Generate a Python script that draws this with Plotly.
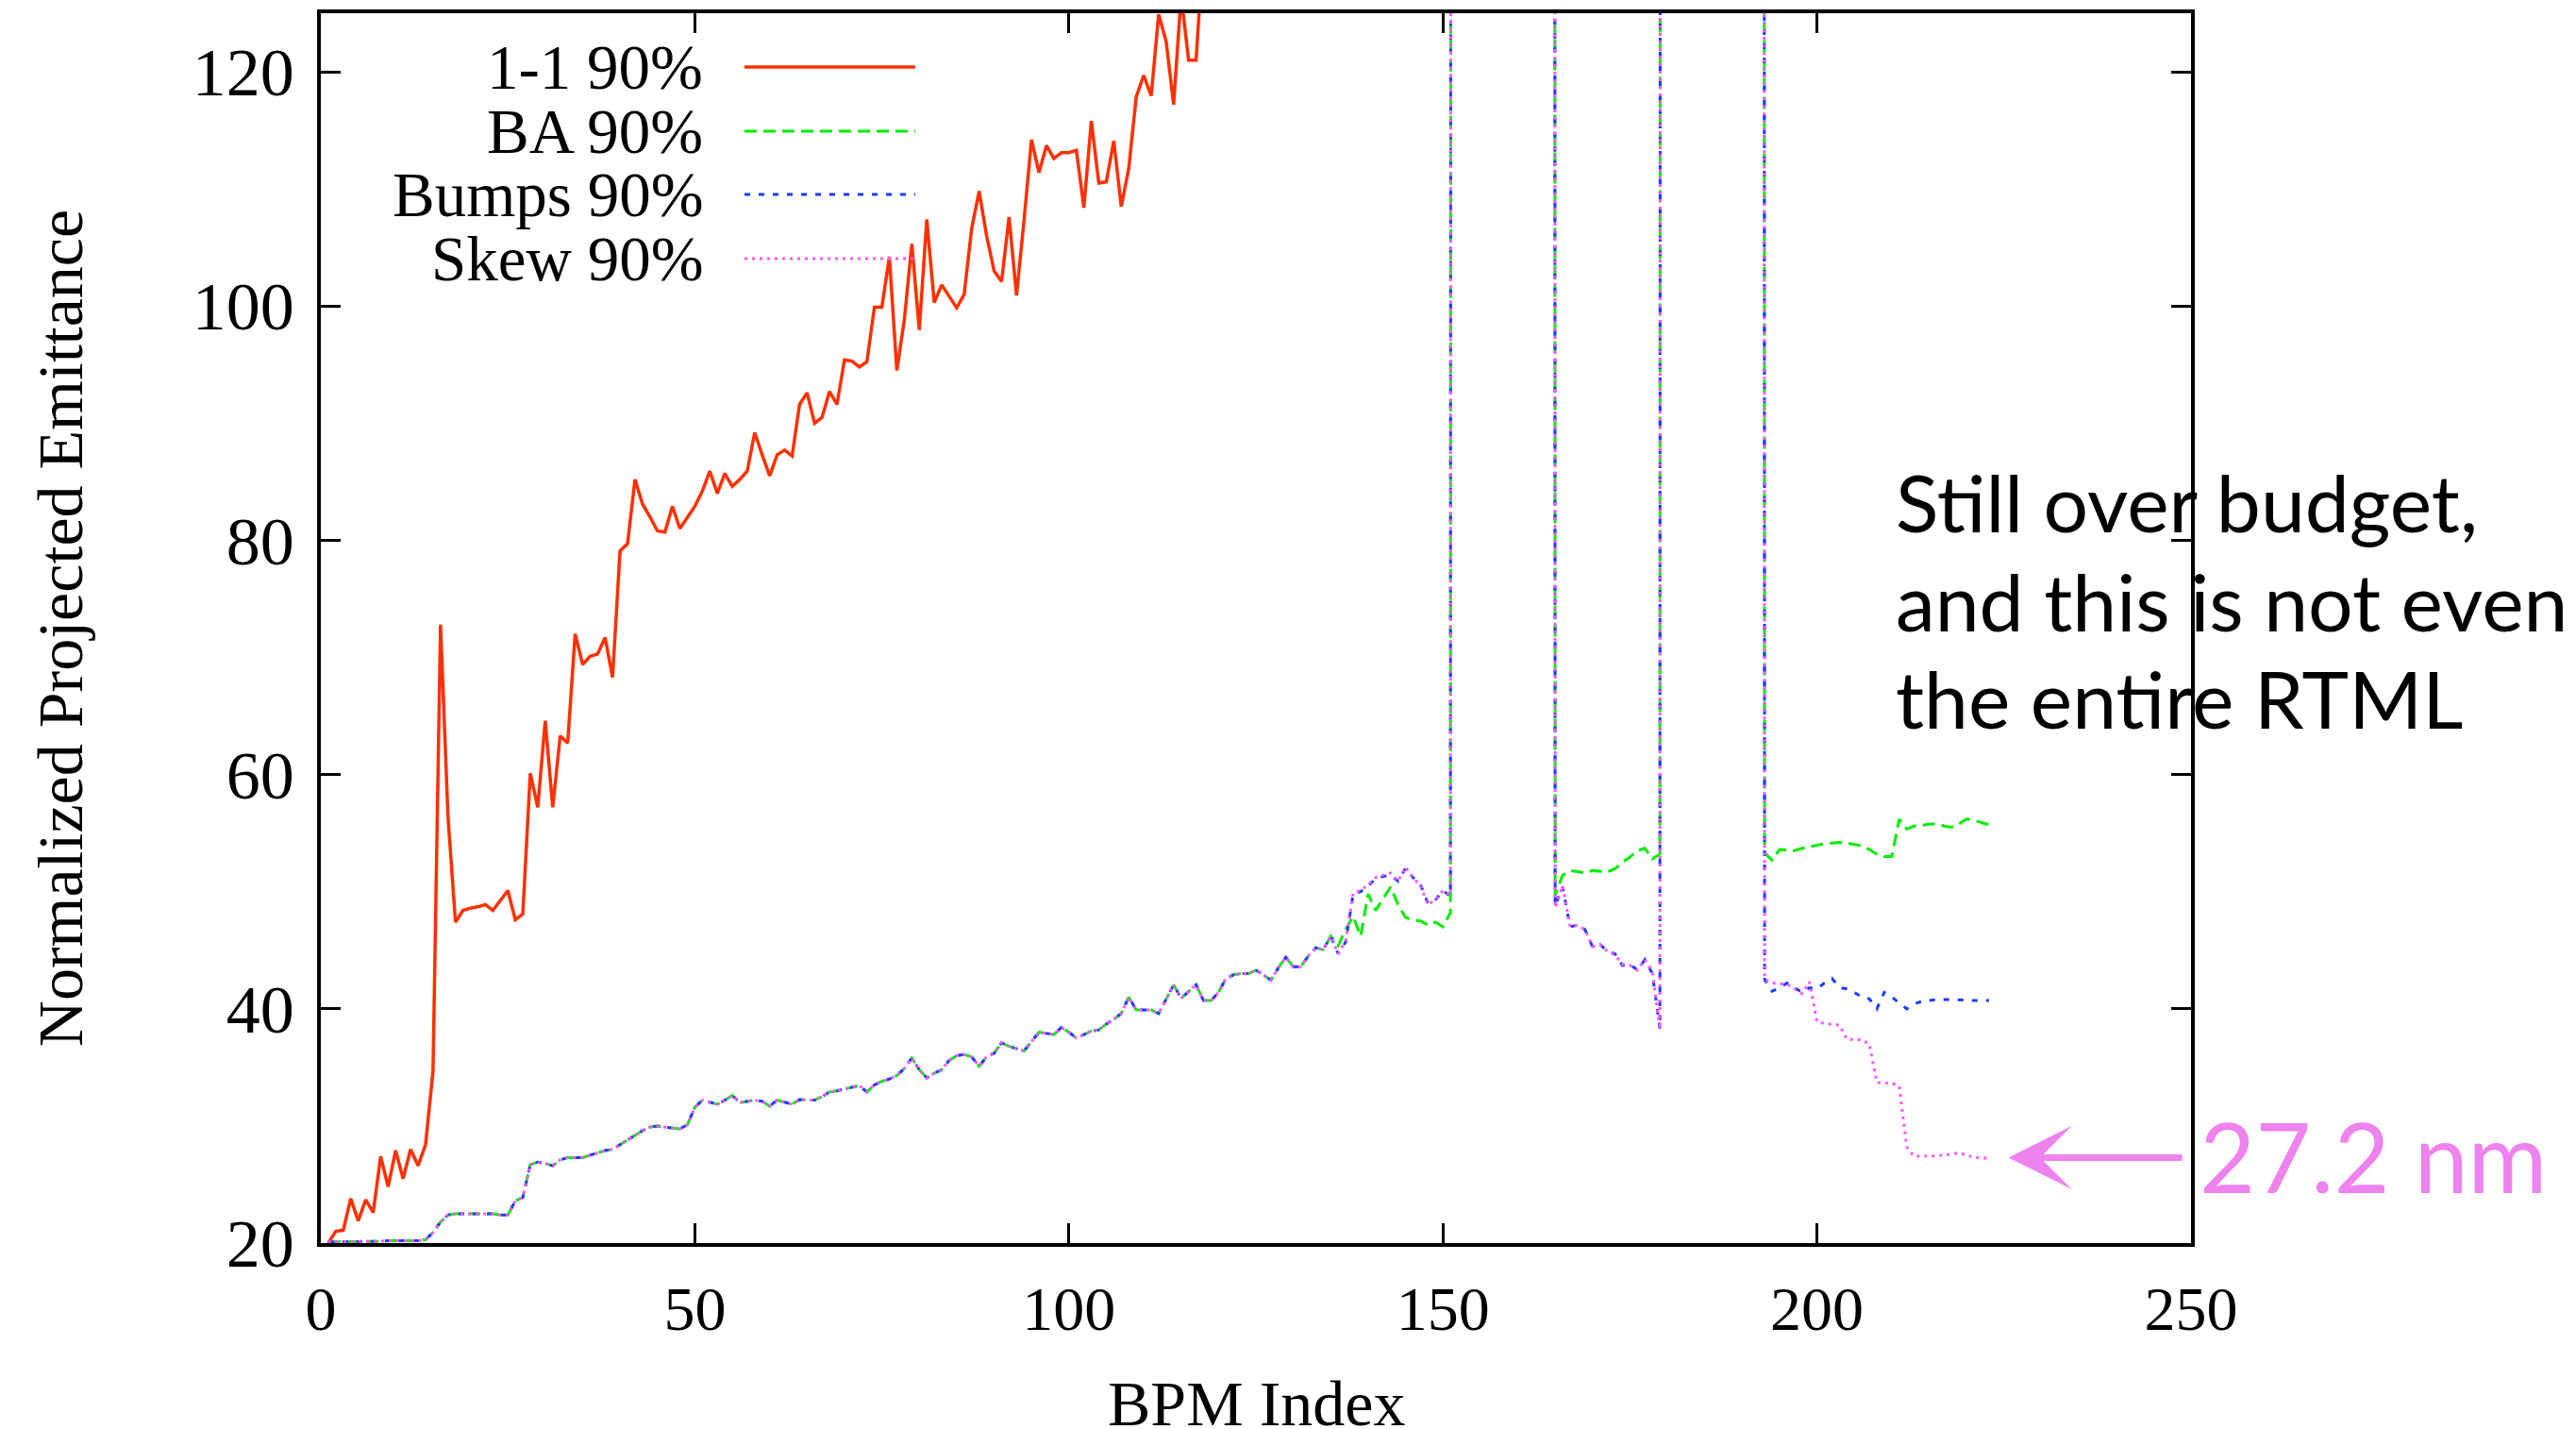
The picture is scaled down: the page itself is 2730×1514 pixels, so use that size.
import plotly.graph_objects as go

# ---------------- data ----------------
OFF = 2000.0  # off-scale values (beyond the plotted range)

bpm_red = list(range(1, 119))
one_to_one = [
    20.0, 21.0, 21.1, 23.8, 21.9, 23.7, 22.6, 27.4, 24.8, 27.9,
    25.5, 28.0, 26.6, 28.4, 34.7, 72.8, 56.4, 47.4, 48.4, 48.6,
    48.7, 48.9, 48.4, 49.2, 50.1, 47.6, 48.1, 60.1, 57.2, 64.6,
    57.2, 63.3, 62.7, 72.0, 69.4, 70.1, 70.3, 71.7, 68.3, 79.1,
    79.7, 85.2, 83.1, 82.0, 80.8, 80.7, 82.9, 81.0, 82.0, 82.9,
    84.2, 85.9, 84.0, 85.7, 84.6, 85.2, 85.9, 89.2, 87.3, 85.5,
    87.3, 87.7, 87.2, 91.6, 92.6, 90.0, 90.5, 92.7, 91.6, 95.4,
    95.3, 94.8, 95.25, 99.9, 99.9, 104.2, 94.5, 98.8, 105.3, 97.95,
    107.4, 100.3, 101.8, 100.8, 99.85, 101.0, 106.6, 109.8, 106.0, 103.0,
    102.1, 107.6, 100.9, 107.3, 114.2, 111.4, 113.7, 112.6, 113.1, 113.1,
    113.3, 108.4, 115.8, 110.5, 110.6, 114.1, 108.5, 111.75, 117.85, 119.7,
    117.95, 124.9, 122.6, 117.2, 126.5, 121.0, 121.0, 131.0,
]

bpm = list(range(1, 224))
# BPM 1..135: the three corrected series coincide
common_low = [
    20.1, 20.1, 20.1, 20.1, 20.1, 20.1, 20.1, 20.15, 20.2, 20.2,
    20.2, 20.2, 20.2, 20.3, 20.9, 21.8, 22.4, 22.5, 22.5, 22.5,
    22.5, 22.5, 22.5, 22.4, 22.4, 23.6, 23.9, 26.7, 26.9, 26.8,
    26.6, 27.1, 27.3, 27.3, 27.3, 27.5, 27.7, 27.9, 28.0, 28.4,
    28.8, 29.2, 29.6, 29.9, 30.0, 29.9, 29.8, 29.75, 30.1, 31.6,
    32.2, 32.0, 31.85, 32.2, 32.6, 32.0, 32.1, 32.2, 32.1, 31.7,
    32.2, 32.0, 31.85, 32.25, 32.2, 32.2, 32.5, 32.9, 33.0, 33.15,
    33.3, 33.45, 32.9, 33.5, 33.8, 34.0, 34.3, 34.9, 35.8, 34.8,
    34.1, 34.5, 34.8, 35.6, 36.0, 36.1, 35.9, 35.1, 35.9, 36.2,
    37.1, 36.8, 36.6, 36.4, 37.2, 38.0, 37.9, 37.8, 38.4, 38.0,
    37.5, 37.8, 38.1, 38.2, 38.7, 39.1, 39.6, 41.0, 39.9, 39.9,
    39.9, 39.6, 40.8, 42.05, 40.9, 41.5, 42.05, 40.7, 40.7, 41.4,
    42.6, 42.9, 43.0, 43.0, 43.3, 42.9, 42.45, 43.5, 44.4, 43.6,
    43.6, 44.5, 45.2, 45.05, 46.2,
]

# BPM 136..223
ba_tail = [
    45.4, 46.8, 47.9, 46.2, 49.8, 48.4, 49.4, 50.4, 48.9, 47.8,
    47.6, 47.5, 47.15, 47.4, 47.0, 48.2,
    OFF, OFF, OFF, OFF, OFF, OFF, OFF, OFF, OFF, OFF, OFF, OFF, OFF,
    49.7, 51.4, 51.8, 51.7, 51.6, 51.8, 51.75, 51.7, 51.95, 52.5,
    52.95, 53.5, 53.7, 52.8, 53.2,
    OFF, OFF, OFF, OFF, OFF, OFF, OFF, OFF, OFF, OFF, OFF, OFF, OFF,
    53.3, 52.7, 53.6, 53.55, 53.5, 53.7, 53.85, 54.0, 54.1, 54.15,
    54.2, 54.15, 54.05, 53.9, 53.6, 53.2, 53.0, 53.0, 56.2, 55.35,
    55.6, 55.7, 55.75, 55.8, 55.6, 55.5, 55.8, 56.2, 56.1, 55.9, 55.7,
]
bumps_tail = [
    44.7, 45.7, 49.8, 50.0, 50.5, 51.1, 51.3, 51.4, 50.9, 52.0,
    51.2, 50.6, 49.0, 49.3, 50.1, 49.6,
    OFF, OFF, OFF, OFF, OFF, OFF, OFF, OFF, OFF, OFF, OFF, OFF, OFF,
    48.8, 50.4, 47.0, 47.15, 46.75, 45.3, 45.5, 44.9, 44.7, 43.7,
    43.8, 43.3, 44.2, 43.0, 38.3,
    OFF, OFF, OFF, OFF, OFF, OFF, OFF, OFF, OFF, OFF, OFF, OFF, OFF,
    42.5, 41.5, 41.8, 42.2, 41.8, 41.4, 41.8, 41.7, 42.2, 42.6,
    41.8, 41.7, 41.4, 41.0, 40.85, 40.0, 41.4, 41.0, 40.5, 40.0,
    40.4, 40.65, 40.7, 40.8, 40.8, 40.8, 40.8, 40.75, 40.7, 40.7, 40.7,
]
skew_tail = [
    44.7, 45.8, 49.9, 50.1, 50.6, 51.2, 51.4, 51.6, 50.9, 52.1,
    51.2, 50.5, 48.9, 49.3, 50.1, 49.7,
    OFF, OFF, OFF, OFF, OFF, OFF, OFF, OFF, OFF, OFF, OFF, OFF, OFF,
    48.6, 50.5, 47.0, 47.15, 46.75, 45.3, 45.5, 44.9, 44.6, 43.8,
    43.7, 43.3, 44.2, 43.2, 38.3,
    OFF, OFF, OFF, OFF, OFF, OFF, OFF, OFF, OFF, OFF, OFF, OFF, OFF,
    42.5, 42.2, 42.15, 42.1, 41.7, 41.3, 42.3, 38.9, 38.75, 38.7,
    38.6, 37.4, 37.35, 37.35, 37.0, 33.7, 33.65, 33.65, 33.4, 28.2,
    27.4, 27.4, 27.4, 27.45, 27.5, 27.6, 27.7, 27.5, 27.3, 27.3, 27.2,
]

ba = common_low + ba_tail
bumps = common_low + bumps_tail
skew = common_low + skew_tail
assert len(one_to_one) == len(bpm_red)
assert len(ba) == len(bpm) and len(bumps) == len(bpm) and len(skew) == len(bpm)

series_names = ["1-1 90%", "BA 90%", "Bumps 90%", "Skew 90%"]
x_ticks = [0, 50, 100, 150, 200, 250]
y_ticks = [20, 40, 60, 80, 100, 120]
x_title = "BPM Index"
y_title = "Normalized Projected Emittance"
final_skew_label = "27.2 nm"
final_skew_value = 27.2

# ---------------- style ----------------
W, H = 2730, 1514
L, R, T, B = 340, 2322, 14, 1317
SERIF = "Liberation Serif"
SANS = "Lato"
colors = ["#ff3000", "#00ee00", "#1a3cff", "#ff55ff"]
dashes = ["solid", "13px,7px", "6px,9px", "3px,5px"]
widths = [3.5, 3, 3, 3]


def px2paper_x(px):
    return (px - L) / (R - L)


def px2paper_y(py):
    return (B - py) / (B - T)


fig = go.Figure()
xs = [bpm_red, bpm, bpm, bpm]
ys = [one_to_one, ba, bumps, skew]
for name, x, y, c, d, w in zip(series_names, xs, ys, colors, dashes, widths):
    fig.add_trace(go.Scatter(x=x, y=y, mode="lines", name=name,
                             line=dict(color=c, dash=d, width=w),
                             showlegend=False))

# legend drawn gnuplot-style (text right-aligned, sample on the right)
legend_y = [71, 139, 206, 274]
for name, ly, c, d, w in zip(series_names, legend_y, colors, dashes, widths):
    fig.add_annotation(xref="paper", yref="paper", x=px2paper_x(747), y=px2paper_y(ly),
                       text=name, showarrow=False, xanchor="right", yanchor="middle",
                       font=dict(family=SERIF, size=67, color="black"))
    fig.add_shape(type="line", xref="paper", yref="paper",
                  x0=px2paper_x(789), x1=px2paper_x(970),
                  y0=px2paper_y(ly), y1=px2paper_y(ly),
                  line=dict(color=c, dash=d, width=w))

# x-axis title (placed as annotation so it can sit close to the bottom edge)
fig.add_annotation(xref="paper", yref="paper", x=0.5, y=px2paper_y(1487),
                   text=x_title, showarrow=False, xanchor="center", yanchor="middle",
                   font=dict(family=SERIF, size=68, color="black"))

# commentary text
comment_lines = ["Still over budget,", "and this is not even", "the entire RTML"]
for txt, cy in zip(comment_lines, [531, 636, 739]):
    fig.add_annotation(xref="paper", yref="paper", x=px2paper_x(2007), y=px2paper_y(cy),
                       text=txt, showarrow=False, xanchor="left", yanchor="middle",
                       font=dict(family=SANS, size=84, color="black"))

# arrow to final Skew value
fig.add_annotation(x=225.6, y=final_skew_value + 0.1, ax=249.0, ay=final_skew_value + 0.1,
                   xref="x", yref="y", axref="x", ayref="y", text="",
                   showarrow=True, arrowhead=3, arrowwidth=7, arrowsize=1.6,
                   arrowcolor="#ee82ee")
fig.add_annotation(xref="paper", yref="paper", x=px2paper_x(2329), y=px2paper_y(1224),
                   text=final_skew_label, showarrow=False, xanchor="left", yanchor="middle",
                   font=dict(family=SANS, size=102, color="#ee82ee"))

axis_common = dict(showgrid=False, zeroline=False, showline=True, linewidth=3.5,
                   linecolor="black", mirror="allticks", ticks="inside", ticklen=21,
                   tickwidth=2.5, tickcolor="black")

fig.update_xaxes(range=[0, 250], tickvals=x_ticks, ticktext=[str(v) for v in x_ticks],
                 ticklabelstandoff=9,
                 tickfont=dict(family=SERIF, size=66, color="black"),
                 **axis_common)
fig.update_yaxes(range=[20, 125], tickvals=y_ticks, ticktext=[str(v) for v in y_ticks],
                 ticklabelstandoff=10,
                 tickfont=dict(family=SERIF, size=72, color="black"),
                 title=dict(text=y_title,
                            font=dict(family=SERIF, size=68, color="black"), standoff=95),
                 **axis_common)

fig.update_layout(width=W, height=H,
                  margin=dict(l=L, r=W - R, t=T, b=H - B, autoexpand=False),
                  paper_bgcolor="white", plot_bgcolor="white", showlegend=False)

fig.write_html("out.html", config={"displayModeBar": False},
               post_script="document.body.style.margin='0px';document.body.style.overflow='hidden';")
